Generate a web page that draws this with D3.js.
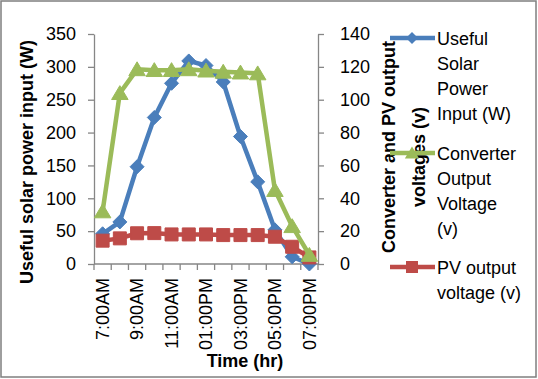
<!DOCTYPE html>
<html><head><meta charset="utf-8">
<script src="https://cdn.jsdelivr.net/npm/d3@7"></script>
<style>
body{margin:0;background:#fff;}
text{font-family:"Liberation Sans",Arial,sans-serif;}
</style></head>
<body>
<svg id="c" width="538" height="379"></svg>
<script>
const categories = ["7:00AM","8:00AM","9:00AM","10:00AM","11:00AM","12:00PM","01:00PM","02:00PM","03:00PM","04:00PM","05:00PM","06:00PM","07:00PM"];
const solarPower = [46, 64, 148, 223, 275, 309, 302, 277, 194, 125, 52, 11, 0];
const converterVoltage = [32, 104, 118.5, 118, 118, 118.5, 117.7, 117, 116.5, 116, 45, 23, 5.5];
const pvVoltage = [14.2, 15.6, 18.7, 18.8, 18, 18, 18, 17.6, 17.6, 17.6, 16.6, 10.5, 4];
const leftTicks = [0,50,100,150,200,250,300,350];
const rightTicks = [0,20,40,60,80,100,120,140];
const seriesNames = [["Useful","Solar","Power","Input (W)"],["Converter","Output","Voltage","(v)"],["PV output","voltage (v)"]];
const colors = ["#4A7EBB","#9BBB59","#BE4B48"];

const svg = d3.select("#c");
const axisColor = "#868686";
svg.append("rect").attr("x",1).attr("y",1).attr("width",535).attr("height",376)
  .attr("fill","#fff").attr("stroke","#7f7f7f").attr("stroke-width",1.5);

const x = d3.scaleBand().domain(categories).range([94,318]);
const yL = d3.scaleLinear().domain([0,350]).range([264,34]);
const yR = d3.scaleLinear().domain([0,140]).range([264,34]);

function styleAxis(g){
  g.selectAll(".domain").attr("stroke",axisColor).attr("stroke-width",1.3);
  g.selectAll(".tick line").attr("stroke",axisColor).attr("stroke-width",1.3);
  g.selectAll("text").attr("fill","#000").style("font-size","18px").style("font-family","'Liberation Sans',Arial,sans-serif");
}

const gL = svg.append("g").attr("transform","translate(94,0)")
  .call(d3.axisLeft(yL).tickValues(leftTicks).tickSize(6).tickPadding(12).tickSizeOuter(0));
styleAxis(gL);
const gR = svg.append("g").attr("transform","translate(318,0)")
  .call(d3.axisRight(yR).tickValues(rightTicks).tickSize(6).tickPadding(16).tickSizeOuter(0));
styleAxis(gR);

// x axis
const gX = svg.append("g").attr("transform","translate(0,264)");
gX.append("line").attr("x1",94).attr("x2",318).attr("y1",0).attr("y2",0).attr("stroke",axisColor).attr("stroke-width",1.3);
const bounds = d3.range(categories.length+1).map(i => 94 + i*x.step());
gX.selectAll("line.t").data(bounds).join("line").attr("class","t")
  .attr("x1",d=>d).attr("x2",d=>d).attr("y1",0).attr("y2",6).attr("stroke",axisColor).attr("stroke-width",1.3);
gX.selectAll("text").data(categories.filter((d,i)=>i%2===0)).join("text")
  .attr("transform",d=>`translate(${x(d)+x.bandwidth()/2},14) rotate(-90)`)
  .attr("text-anchor","end").attr("dy","0.35em").style("font-size","18px").attr("fill","#000").text(d=>d);

// titles
svg.append("text").attr("transform","translate(33,162) rotate(-90)").attr("text-anchor","middle")
  .style("font-size","18px").style("font-weight","bold").text("Useful solar power input (W)");
svg.append("text").attr("x",245).attr("y",367).attr("text-anchor","middle")
  .style("font-size","18px").style("font-weight","bold").text("Time (hr)");
svg.append("text").attr("transform","translate(395,147) rotate(-90)").attr("text-anchor","middle")
  .style("font-size","18px").style("font-weight","bold").text("Converter and PV output");
svg.append("text").attr("transform","translate(425,157) rotate(-90)").attr("text-anchor","middle")
  .style("font-size","18px").style("font-weight","bold").text("voltages (v)");

const cx = (d,i) => x(categories[i]) + x.bandwidth()/2;
const diamond = d3.symbol().type(d3.symbolDiamond2 || d3.symbolDiamond).size(110)();
const tri = d3.symbol().type(d3.symbolTriangle).size(100)();
const sq = d3.symbol().type(d3.symbolSquare).size(170)();
function diamondPath(s){ return `M0,${-s}L${s},0L0,${s}L${-s},0Z`; }
function triPath(s){ return `M0,${-s}L${s*1.1},${s*0.85}L${-s*1.1},${s*0.85}Z`; }

function drawSeries(vals, scale, color, markerPath){
  svg.append("path").datum(vals)
    .attr("d", d3.line().x(cx).y(d=>scale(d)))
    .attr("fill","none").attr("stroke",color).attr("stroke-width",4.5).attr("stroke-linejoin","round");
  svg.selectAll(null).data(vals).join("path")
    .attr("transform",(d,i)=>`translate(${cx(d,i)},${scale(d)})`)
    .attr("d",markerPath).attr("fill",color).attr("stroke",color).attr("stroke-width",1);
}
drawSeries(solarPower, yL, colors[0], diamondPath(7));
drawSeries(pvVoltage, yR, colors[2], "M-6.5,-6.5H6.5V6.5H-6.5Z");
drawSeries(converterVoltage, yR, colors[1], triPath(7.5));

// legend
const legY = [38,153,267];
const markers = [diamondPath(6), triPath(6.5), "M-6,-6H6V6H-6Z"];
legY.forEach((ly,k)=>{
  svg.append("line").attr("x1",390).attr("x2",435).attr("y1",ly).attr("y2",ly).attr("stroke",colors[k]).attr("stroke-width",4.5);
  svg.append("path").attr("transform",`translate(412,${ly})`).attr("d",markers[k]).attr("fill",colors[k]);
  seriesNames[k].forEach((t,j)=>{
    svg.append("text").attr("x",437).attr("y",ly+7+j*25).style("font-size","18px").attr("fill","#000").text(t);
  });
});
</script>
</body></html>
